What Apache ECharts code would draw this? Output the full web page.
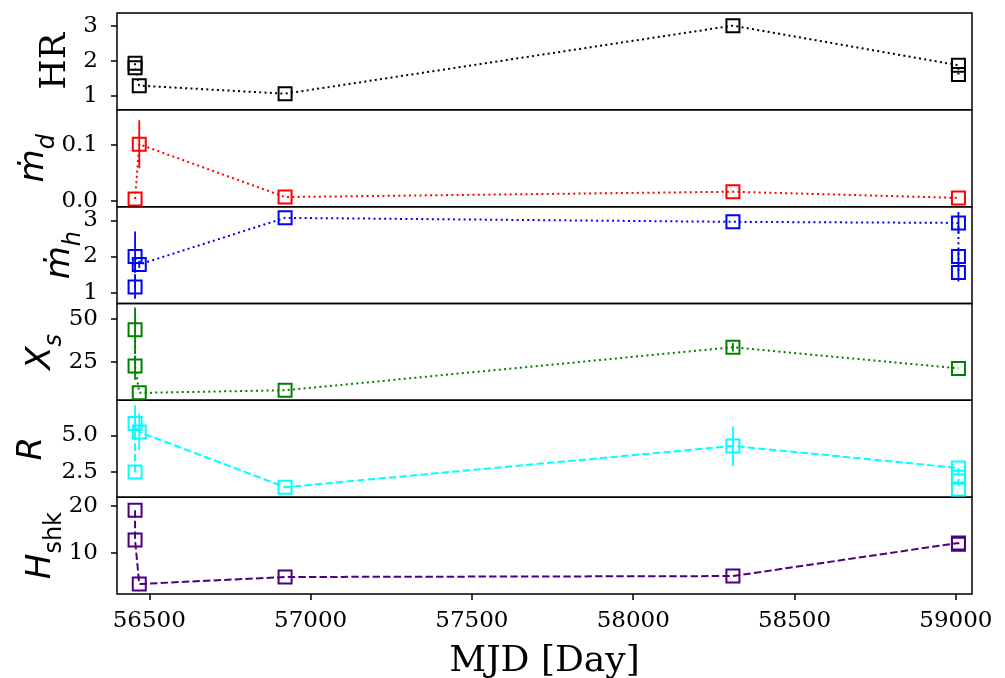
<!DOCTYPE html>
<html>
<head>
<meta charset="utf-8">
<script src="https://cdn.jsdelivr.net/npm/echarts@6/dist/echarts.min.js"></script>
<style>
html,body{margin:0;padding:0;background:#fff;}
#chart{width:1005px;height:678px;}
</style>
</head>
<body>
<div id="chart"></div>
<script>
// ---------- data ----------
const xTicks = [56500, 57000, 57500, 58000, 58500, 59000];

const mjdHR = [56456, 56456, 56469, 56921, 58309, 59008, 59008];
const hr = [1.93, 1.80, 1.29, 1.06, 3.00, 1.87, 1.61];
const hrErrLo = [0, 0, 0, 0, 0, 0, 0];
const hrErrHi = [0, 0, 0, 0, 0, 0, 0];
const hrTicks = [1, 2, 3];

const mjdMd = [56456, 56469, 56921, 58309, 59008];
const md = [0.003, 0.101, 0.0065, 0.016, 0.005];
const mdErrLo = [0, 0.043, 0, 0, 0];
const mdErrHi = [0, 0.043, 0, 0, 0];
const mdTicks = [0.0, 0.1];

const mjdMh = [56456, 56456, 56469, 56921, 58309, 59008, 59008, 59008];
const mh = [1.16, 2.00, 1.78, 3.07, 2.96, 2.93, 2.00, 1.56];
const mhErrLo = [0.33, 0.45, 0.10, 0, 0, 0.30, 0.20, 0.25];
const mhErrHi = [0.30, 0.69, 0.10, 0, 0, 0.30, 0.19, 0.20];
const mhTicks = [1, 2, 3];

const mjdXs = [56456, 56456, 56469, 56921, 58309, 59008];
const xs = [43.6, 22.7, 7.2, 8.7, 33.5, 21.3];
const xsErrLo = [14, 8, 0, 0, 2.5, 0];
const xsErrHi = [12.8, 6, 0, 0, 2.5, 0];
const xsTicks = [25, 50];

const mjdR = [56456, 56456, 56469, 56921, 58309, 59008, 59008, 59008];
const rr = [2.5, 5.8, 5.22, 1.46, 4.27, 2.77, 2.14, 1.34];
const rErrLo = [0, 0.8, 1.24, 0, 1.37, 0, 0, 0];
const rErrHi = [0, 1.24, 1.26, 0, 1.33, 0, 0, 0];
const rTicks = [2.5, 5.0];

const mjdH = [56456, 56456, 56469, 56921, 58309, 59008, 59008];
const hshk = [19.1, 12.7, 3.3, 4.8, 5.0, 12.1, 11.8];
const hErrLo = [0, 0, 0, 0, 0, 0, 0];
const hErrHi = [0, 0, 0, 0, 0, 0, 0];
const hTicks = [10, 20];

// ---------- layout ----------
const LEFT = 117, RIGHT = 1005 - 972, TOP = 13, PH = (594 - 13) / 6;
const DOT = [2, 3.3], DASH = [7.4, 3.2];

const mathRich = (subItalic) => ({
  m: {fontFamily: 'DejaVu Sans', fontStyle: 'italic', fontSize: 34, lineHeight: 35, padding: [0, 0, 9, 0], verticalAlign: 'bottom', color: '#000'},
  s: {fontFamily: 'DejaVu Sans', fontStyle: subItalic ? 'italic' : 'normal', fontSize: 24, lineHeight: 25, verticalAlign: 'bottom', color: '#000'}
});

const panels = [
  {x: mjdHR, y: hr, lo: hrErrLo, hi: hrErrHi, ticks: hrTicks, min: 0.6, max: 3.36, color: '#000000', ls: DOT, dec: 0,
   name: 'HR', gap: 44, nts: {fontFamily: 'DejaVu Serif', fontSize: 35, color: '#000'}},
  {x: mjdMd, y: md, lo: mdErrLo, hi: mdErrHi, ticks: mdTicks, min: -0.0107, max: 0.1625, color: '#ff0000', ls: DOT, dec: 1,
   name: '{m|ṁ}{s|d}', gap: 57, nts: {rich: mathRich(true)}},
  {x: mjdMh, y: mh, lo: mhErrLo, hi: mhErrHi, ticks: mhTicks, min: 0.70, max: 3.38, color: '#0000ff', ls: DOT, dec: 0,
   name: '{m|ṁ}{s|h}', gap: 31, nts: {rich: mathRich(true)}},
  {x: mjdXs, y: xs, lo: xsErrLo, hi: xsErrHi, ticks: xsTicks, min: 2.9, max: 58.7, color: '#008000', ls: DOT, dec: 0,
   name: '{m|X}{s|s}', gap: 50, nts: {rich: mathRich(true)}},
  {x: mjdR, y: rr, lo: rErrLo, hi: rErrHi, ticks: rTicks, min: 0.78, max: 7.38, color: '#00ffff', ls: DASH, dec: 1,
   name: 'R', gap: 68, nts: {fontFamily: 'DejaVu Sans', fontStyle: 'italic', fontSize: 34, color: '#000'}},
  {x: mjdH, y: hshk, lo: hErrLo, hi: hErrHi, ticks: hTicks, min: 1.16, max: 21.9, color: '#4b0082', ls: DASH, dec: 0,
   name: '{m|H}{s|shk}', gap: 50, nts: {rich: mathRich(false)}}
];

const grids = [], xAxes = [], yAxes = [], series = [];
panels.forEach((p, i) => {
  const last = i === panels.length - 1;
  grids.push({left: LEFT, right: RIGHT, top: TOP + i * PH, height: PH, show: true,
    borderColor: '#000', borderWidth: 1.5, backgroundColor: 'transparent', containLabel: false, outerBoundsMode: 'none'});
  xAxes.push({
    type: 'value', gridIndex: i, min: 56400, max: 59050,
    axisLine: {show: false}, splitLine: {show: false},
    axisTick: {show: last, customValues: xTicks, length: 6, lineStyle: {color: '#000', width: 1.5}},
    axisLabel: {show: last, customValues: xTicks, fontFamily: 'DejaVu Serif', fontSize: 23, color: '#000', margin: 16,
      formatter: v => String(v)},
    name: last ? 'MJD [Day]' : '', nameLocation: 'middle', nameGap: 50, nameMoveOverlap: false,
    nameTextStyle: {fontFamily: 'DejaVu Serif', fontSize: 36, color: '#000'}
  });
  yAxes.push({
    type: 'value', gridIndex: i, min: p.min, max: p.max,
    axisLine: {show: false}, splitLine: {show: false},
    axisTick: {show: true, customValues: p.ticks, length: 6, lineStyle: {color: '#000', width: 1.5}},
    axisLabel: {customValues: p.ticks, fontFamily: 'DejaVu Serif', fontSize: 23, color: '#000', margin: 19,
      formatter: v => Number(v).toFixed(p.dec)},
    name: p.name, nameLocation: 'middle', nameGap: p.gap, nameMoveOverlap: false, nameTextStyle: p.nts
  });
  const errData = [];
  p.x.forEach((xv, k) => {
    if (p.lo[k] > 0 || p.hi[k] > 0) errData.push([xv, p.y[k] - p.lo[k], p.y[k] + p.hi[k]]);
  });
  series.push({
    type: 'custom', xAxisIndex: i, yAxisIndex: i, silent: true, z: 1, clip: true,
    data: errData, encode: {x: 0, y: [1, 2]},
    renderItem: (params, api) => {
      const a = api.coord([api.value(0), api.value(1)]);
      const b = api.coord([api.value(0), api.value(2)]);
      return {type: 'line', shape: {x1: a[0], y1: a[1], x2: b[0], y2: b[1]},
        style: {stroke: p.color, lineWidth: 1.8}};
    }
  });
  series.push({
    type: 'line', xAxisIndex: i, yAxisIndex: i, z: 2, silent: true,
    data: p.x.map((xv, k) => [xv, p.y[k]]),
    symbol: 'rect', symbolSize: 13, showAllSymbol: true,
    lineStyle: {color: p.color, width: 2, type: p.ls, cap: 'butt'},
    itemStyle: {color: 'rgba(0,0,0,0)', borderColor: p.color, borderWidth: 2},
    emphasis: {disabled: true}
  });
});

const chart = echarts.init(document.getElementById('chart'), null, {renderer: 'canvas'});
chart.setOption({
  animation: false,
  backgroundColor: '#ffffff',
  grid: grids, xAxis: xAxes, yAxis: yAxes, series: series
});
</script>
</body>
</html>
